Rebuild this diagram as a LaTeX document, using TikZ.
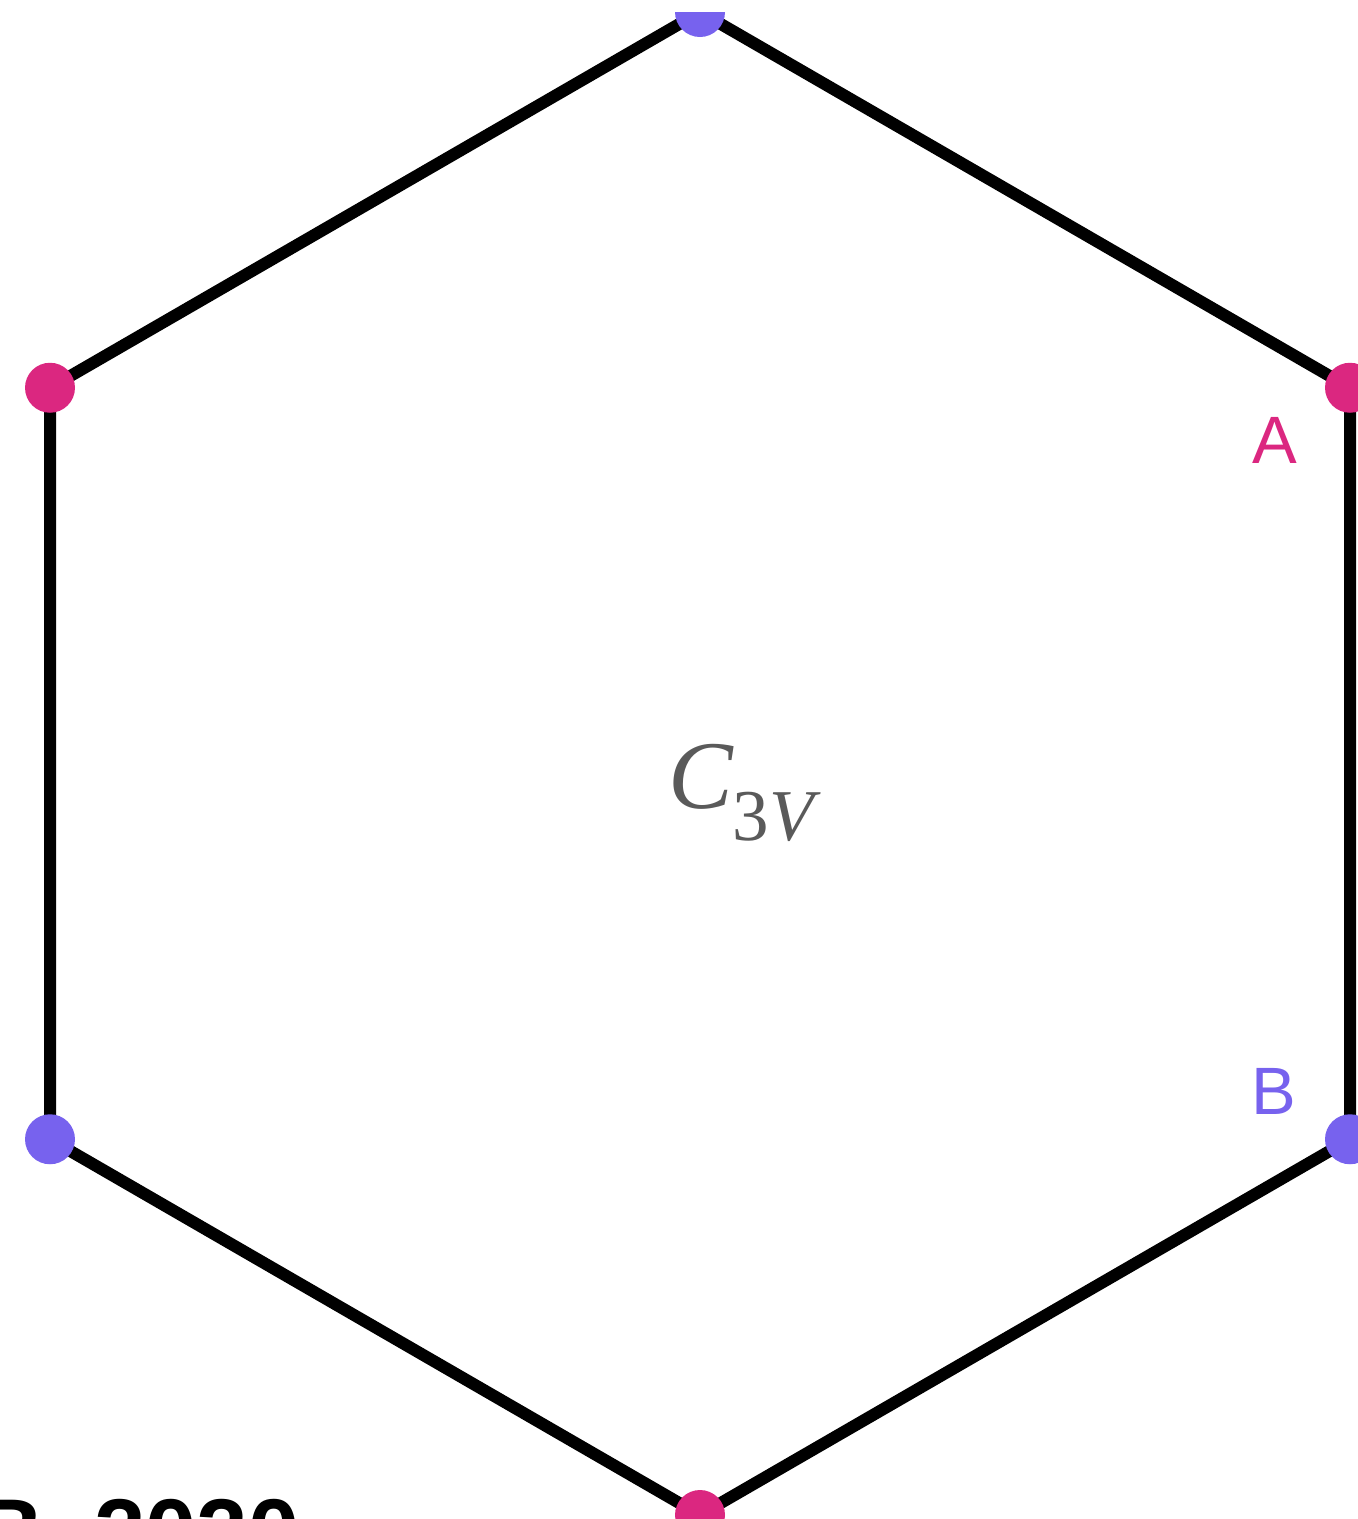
\documentclass[tikz,border=0pt]{standalone}
\usepackage{fontspec}
\setmainfont{Liberation Serif}
\newfontfamily\labelfont{Liberation Sans}
\usetikzlibrary{positioning}
\definecolor{sitepink}{HTML}{DB2780}
\definecolor{sitepurple}{HTML}{7762EE}
\definecolor{symgray}{HTML}{5A5A5A}

\begin{document}
\begin{tikzpicture}[
    x=1pt, y=-1pt,
    edge/.style={line width=12pt, line join=miter},
    siteA/.style={circle, fill=sitepink, inner sep=0pt, minimum size=50pt},
    siteB/.style={circle, fill=sitepurple, inner sep=0pt, minimum size=50pt},
    sitelabel/.style={anchor=base, inner sep=0pt, font=\labelfont\fontsize{67}{80}\selectfont}
]
\useasboundingbox (0,0) rectangle (1358,1519);
\clip (0,12) rectangle (1358,1519);

% Hexagon corners
\coordinate (top) at (700,12);
\coordinate (ur) at (1350,387.75);
\coordinate (lr) at (1350,1139.25);
\coordinate (bot) at (700,1515);
\coordinate (ll) at (50,1139.25);
\coordinate (ul) at (50,387.75);

% Edges
\draw[edge] (top) -- (ur) -- (lr) -- (bot) -- (ll) -- (ul) -- cycle;

% Sites
\node[siteB] (dtop) at (top) {};
\node[siteA] (dur) at (ur) {};
\node[siteB] (dlr) at (lr) {};
\node[siteA] (dbot) at (bot) {};
\node[siteB] (dll) at (ll) {};
\node[siteA] (dul) at (ul) {};

% Labels
\node[sitelabel, text=sitepink] (labA) at (1275,463) {A};
\node[sitelabel, text=sitepurple] (labB) at (1274,1114) {B};
\node[anchor=base west, inner sep=0pt, text=symgray] (sym) at (668,808)
    {\fontsize{97}{100}\selectfont\itshape C\raisebox{-32pt}{\fontsize{73}{80}\selectfont\upshape 3\itshape V}};
\node[anchor=base west, inner sep=0pt, font=\labelfont\bfseries\fontsize{92}{100}\selectfont] (note) at (-23,1563) {B, 2020};
\end{tikzpicture}
\end{document}
